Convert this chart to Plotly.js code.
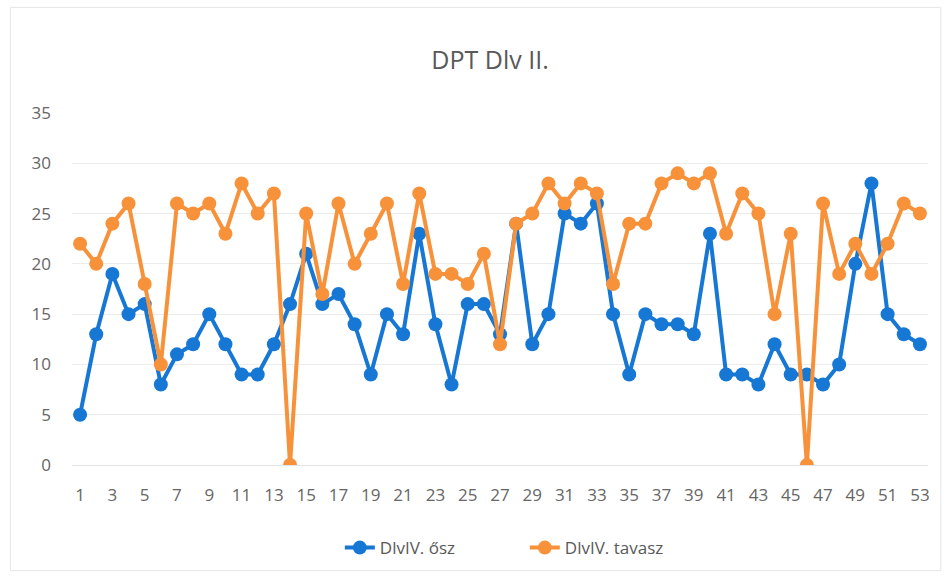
<!DOCTYPE html>
<html>
<head>
<meta charset="utf-8">
<script src="https://cdn.plot.ly/plotly-3.0.1.min.js"></script>
<style>html,body{margin:0;padding:0;background:#fff;}#chart{width:946px;height:578px;}</style>
</head>
<body>
<div id="chart"></div>
<script>
const weeks = Array.from({length: 53}, (_, i) => i + 1);
const osz = [5,13,19,15,16,8,11,12,15,12,9,9,12,16,21,16,17,14,9,15,13,23,14,8,16,16,13,24,12,15,25,24,26,15,9,15,14,14,13,23,9,9,8,12,9,9,8,10,20,28,15,13,12];
const tavasz = [22,20,24,26,18,10,26,25,26,23,28,25,27,0,25,17,26,20,23,26,18,27,19,19,18,21,12,24,25,28,26,28,27,18,24,24,28,29,28,29,23,27,25,15,23,0,26,19,22,19,22,26,25];
const names = ["DlvIV. ősz", "DlvIV. tavasz"];
const tickVals = weeks.filter(w => w % 2 === 1);

const font = "Open Sans, Liberation Sans, sans-serif";
const traces = [
  {x: weeks, y: osz, name: names[0], type: 'scatter', mode: 'lines+markers',
   line: {color: '#1677d4', width: 4}, marker: {color: '#1677d4', size: 14}},
  {x: weeks, y: tavasz, name: names[1], type: 'scatter', mode: 'lines+markers',
   line: {color: '#f7923a', width: 4}, marker: {color: '#f7923a', size: 14}}
];
const layout = {
  width: 946, height: 578,
  margin: {l: 72, r: 18, t: 113, b: 113},
  paper_bgcolor: '#fff', plot_bgcolor: '#fff',
  title: {text: 'DPT Dlv II.', x: 0.518, xanchor: 'center', y: 0.895, yanchor: 'middle',
          font: {family: font, size: 25, color: '#595959'}},
  xaxis: {range: [0.5, 53.5], tickmode: 'array', tickvals: tickVals, ticktext: tickVals.map(String),
          showgrid: false, zeroline: false, showline: false, ticks: '',
          ticklabelstandoff: 18, tickfont: {family: font, size: 17, color: '#666666'}},
  yaxis: {range: [0, 35], dtick: 5, tick0: 0, showgrid: true, gridcolor: '#ececec', gridwidth: 1,
          zeroline: true, zerolinecolor: '#e4e4e4', showline: false, ticks: '',
          ticklabelstandoff: 20, tickfont: {family: font, size: 17, color: '#666666'}},
  showlegend: true,
  legend: {orientation: 'h', x: 0.529, xanchor: 'center', y: -0.236, yanchor: 'middle',
           font: {family: font, size: 17, color: '#595959'}, entrywidth: 140, entrywidthmode: 'pixels'},
  shapes: [{type: 'rect', xref: 'paper', yref: 'paper', x0: -0.072, x1: 1.015, y0: -0.3, y1: 1.3,
            line: {color: '#e6e6e6', width: 1}}]
};
Plotly.newPlot('chart', traces, layout, {displayModeBar: false, staticPlot: true});
</script>
</body>
</html>
